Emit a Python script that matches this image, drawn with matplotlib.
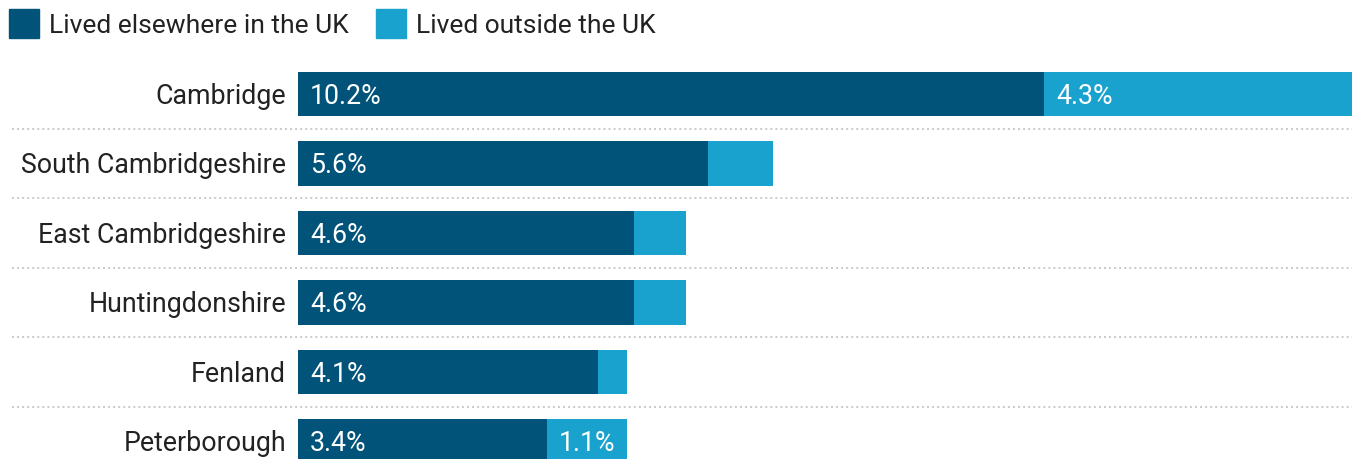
import matplotlib.pyplot as plt
from matplotlib.patches import Patch
from matplotlib.lines import Line2D
import matplotlib.transforms as mtransforms

plt.rcParams['font.family'] = ['Roboto', 'DejaVu Sans']

areas = ["Cambridge", "South Cambridgeshire", "East Cambridgeshire",
         "Huntingdonshire", "Fenland", "Peterborough"]
elsewhere_uk = [10.2, 5.6, 4.6, 4.6, 4.1, 3.4]
outside_uk = [4.3, 0.9, 0.7, 0.7, 0.4, 1.1]
series_names = ["Lived elsewhere in the UK", "Lived outside the UK"]

dark = "#01537a"
light = "#1aa2ce"
fs = 19.3

W, H = 1352, 459
px_per_pct = 73.15
fig = plt.figure(figsize=(W / 100, H / 100), dpi=100)
ax = fig.add_axes([298 / W, 0, 1 - 298 / W, 1])

y = list(range(len(areas)))
ax.barh(y, elsewhere_uk, height=0.635, color=dark)
ax.barh(y, outside_uk, left=elsewhere_uk, height=0.635, color=light)

ax.set_xlim(0, (W - 298) / px_per_pct)
row = 69.5
ax.set_ylim((H - 94) / row, -94 / row)
ax.axis("off")

# value labels inside the bars, category names to the left
pad = 12 / px_per_pct
dy = 0.03
for i in y:
    ax.text(pad, i + dy, f"{elsewhere_uk[i]}%", color="white", fontsize=fs,
            va="center", ha="left")
    if outside_uk[i] >= 1.0:
        ax.text(elsewhere_uk[i] + pad, i + dy, f"{outside_uk[i]}%",
                color="white", fontsize=fs, va="center", ha="left")
    ax.text(-12 / px_per_pct, i + dy, areas[i], color="#222222", fontsize=fs,
            va="center", ha="right")

# dotted separators between rows
trans = mtransforms.blended_transform_factory(fig.transFigure, ax.transData)
for i in y[:-1]:
    ax.add_line(Line2D([12 / W, 1.0], [i + 0.5, i + 0.5], transform=trans,
                       color="#c9c9c9", lw=1.4, linestyle=(0, (1, 1.6)),
                       clip_on=False))

handles = [Patch(color=dark), Patch(color=light)]
fig.legend(handles, series_names, loc="upper left", bbox_to_anchor=(0.0, 1.0),
           ncol=2, frameon=False, fontsize=19, handlelength=1.12,
           handleheight=1.32, handletextpad=0.38, columnspacing=1.05,
           borderaxespad=0.0, borderpad=0.35, labelcolor="#222222")

fig.savefig("out.png", dpi=100)
